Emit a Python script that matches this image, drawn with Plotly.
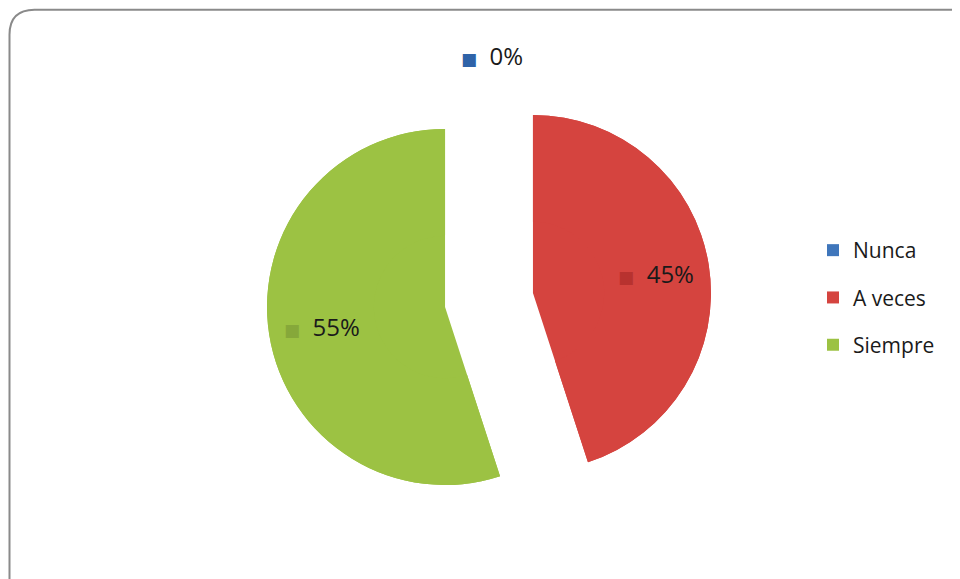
import plotly.graph_objects as go

categories = ["Nunca", "A veces", "Siempre"]
values = [0, 45, 55]
colors = ["#3f76bb", "#d5443f", "#9cc243"]
marker_colors = ["#2f63a8", "#b8322f", "#86a83a"]

total = sum(values)
pcts = [round(v / total * 100) for v in values]
FONT = "Open Sans, sans-serif"
texts = [f"<span style='color:{mc};font-family:DejaVu Sans;font-size:17px'>■</span>  {p}%"
         for p, mc in zip(pcts, marker_colors)]

W, H = 952, 571
dom = dict(x=[0.2715, 0.7390], y=[0.0989, 0.8783])
pull = [0.25, 0.25, 0.25]

fig = go.Figure()
# base pie (solid, no text)
fig.add_trace(go.Pie(
    labels=categories, values=values, textinfo="none", sort=False,
    direction="clockwise", rotation=0, pull=pull,
    marker=dict(colors=colors, line=dict(width=0)),
    showlegend=False, domain=dom, hoverinfo="skip",
))
# ring on top carrying the labels further out
fig.add_trace(go.Pie(
    labels=categories, values=values, text=texts, textinfo="text",
    textposition="inside", insidetextorientation="horizontal",
    sort=False, direction="clockwise", rotation=0, pull=pull, hole=0.4,
    marker=dict(colors=colors, line=dict(width=0)),
    textfont=dict(family=FONT, size=24, color="#1a1a1a"),
    showlegend=False, domain=dom, hoverinfo="label+percent",
))

# legend entries (square markers), one per category
for cat, c in zip(categories, colors):
    fig.add_trace(go.Scatter(
        x=[None], y=[None], mode="markers", name=cat, legendgroup=cat,
        marker=dict(symbol="square", size=12, color=c),
    ))

# zero-value slice label at the top
fig.add_annotation(
    x=484 / W, y=1 - 47 / H, xref="paper", yref="paper",
    text=texts[0], showarrow=False,
    font=dict(family=FONT, size=24, color="#1a1a1a"),
    xanchor="center", yanchor="middle",
)

x0, yt, r = 1.5 / W, 1 - 1.8 / H, 25
fig.update_layout(
    width=W, height=H,
    margin=dict(l=0, r=0, t=0, b=0),
    paper_bgcolor="white", plot_bgcolor="white",
    xaxis=dict(visible=False), yaxis=dict(visible=False),
    legend=dict(
        x=805 / W, y=1 - 222 / H, xanchor="left", yanchor="top",
        font=dict(family=FONT, size=21, color="#1a1a1a"),
        tracegroupgap=17, itemwidth=30,
    ),
    shapes=[dict(
        type="path", xref="paper", yref="paper",
        path=(f"M {x0},{yt - r / H} L {x0},-0.05 L 1.05,-0.05 L 1.05,{yt} "
              f"L {x0 + r / W},{yt} Q {x0},{yt} {x0},{yt - r / H} Z"),
        line=dict(color="#8a8a8a", width=2), fillcolor="rgba(0,0,0,0)",
    )],
)

fig.write_html("out.html")
